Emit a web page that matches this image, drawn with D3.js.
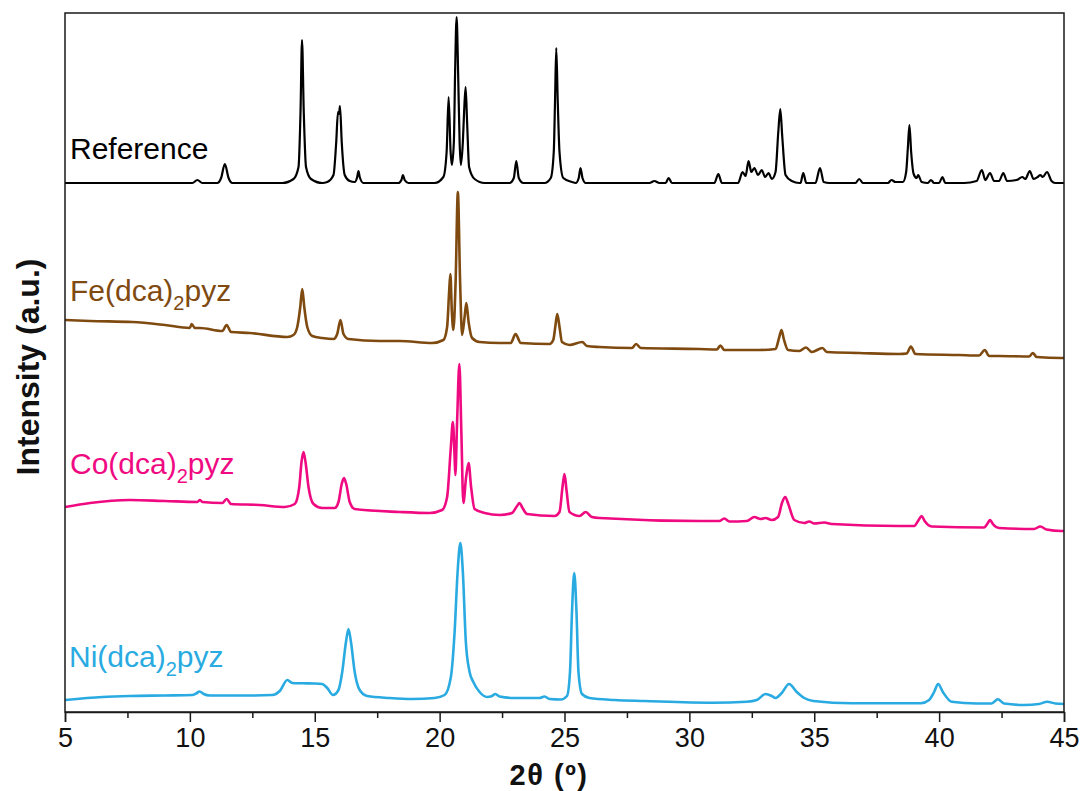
<!DOCTYPE html>
<html>
<head>
<meta charset="utf-8">
<script src="https://cdn.jsdelivr.net/npm/d3@7/dist/d3.min.js"></script>
<style>
  html, body { margin: 0; padding: 0; background: #fff; }
  svg { display: block; }
  text { font-family: "Liberation Sans", Arial, Helvetica, sans-serif; }
</style>
</head>
<body>
<svg id="chart" width="1084" height="791"></svg>
<script>
// ---- Data (2θ in degrees, intensity in a.u., patterns already vertically offset) ----
const xTicks = [5, 10, 15, 20, 25, 30, 35, 40, 45];
const xMinorTicks = [7.5, 12.5, 17.5, 22.5, 27.5, 32.5, 37.5, 42.5];
const seriesNames = ["Reference", "Fe(dca)2pyz", "Co(dca)2pyz", "Ni(dca)2pyz"];
const seriesColors = ["#000000", "#7f4a10", "#f00a82", "#29abe2"];

const referencePattern = [
  [5,529],[10.1,529],[10.3,532],[10.5,529],
  [11.1,529],[11.25,534],[11.4,548],[11.55,534],[11.7,529],
  [13.7,529],[14.15,533],[14.35,545],[14.43,600],[14.49,672],[14.56,600],[14.65,545],[14.85,533],[15.3,529],
  [15.5,530],[15.75,537],[15.86,570],[15.93,600],[15.97,598],[16.01,606],[16.08,570],[16.2,537],[16.4,531],
  [16.6,530],[16.7,535],[16.75,541],[16.8,535],[16.95,529],
  [18.35,529],[18.47,532],[18.53,537],[18.6,532],[18.75,529],
  [19.8,529],[20.15,535],[20.28,560],[20.36,615],[20.44,560],[20.49,547],[20.57,570],[20.62,640],[20.68,695],[20.74,640],[20.8,570],[20.85,547],[20.93,570],[20.98,600],[21.04,625],[21.1,590],[21.18,545],[21.4,533],[21.8,529],
  [22.8,529],[22.97,534],[23.07,551],[23.17,534],[23.35,529],
  [24.2,529],[24.45,534],[24.57,560],[24.62,610],[24.67,664],[24.73,610],[24.8,560],[24.95,534],[25.3,530],
  [25.45,529],[25.57,534],[25.64,544],[25.72,534],[25.85,529],
  [28.4,529],[28.6,531],[28.8,529],
  [29.05,529],[29.17,534],[29.3,529],
  [31.0,529],[31.16,538],[31.3,529],
  [31.95,529],[32.13,540],[32.25,536],[32.37,551],[32.48,540],[32.6,544],[32.75,537],[32.9,542],[33.03,535],[33.17,539],[33.3,533],[33.45,540],[33.56,580],[33.64,603],[33.72,575],[33.85,537],[34.1,531],[34.4,529],
  [34.45,529],[34.56,539],[34.68,529],
  [35.05,529],[35.23,544],[35.38,530],
  [35.6,529],[36.65,529],[36.8,533],[36.95,529],
  [37.95,529],[38.09,532],[38.25,530],
  [38.55,530],[38.68,540],[38.75,565],[38.81,587],[38.88,560],[38.98,538],[39.1,534],[39.16,537],[39.3,530],
  [39.55,529],[39.67,532],[39.8,529],
  [40.0,529],[40.13,535],[40.25,529],
  [41.0,529],[41.5,531],[41.71,542],[41.85,532],[42.04,539],[42.2,531],[42.4,531],[42.57,539],[42.72,531],[43.1,532],[43.33,535],[43.45,533],[43.63,541],[43.78,533],[43.95,535],[44.05,537],[44.15,535],[44.32,540],[44.5,531],[44.65,529],[45,529]
];

const fePattern = [
  [5,392],[6,391],[7.7,390],[9,387],[10.0,384],[10.07,388],[10.2,384],[10.4,384],[11.3,381],[11.47,387],[11.65,380],[12.4,379],[13.9,375],
  [14.15,377],[14.3,385],[14.42,405],[14.5,423],[14.58,405],[14.7,385],[14.9,376],[15.3,374],
  [15.75,373],[15.9,378],[16.03,392],[16.15,378],[16.35,373],[17.6,371],[18.4,371],[19.7,369],
  [20.15,372],[20.3,385],[20.38,420],[20.43,438],[20.49,400],[20.55,382],[20.64,430],[20.73,520],[20.82,430],[20.9,377],[21.0,395],[21.07,409],[21.16,390],[21.3,374],[21.6,370],
  [22.4,369],[22.85,369],[23.04,378],[23.25,369],[24.4,368],[24.55,372],[24.63,385],[24.71,398],[24.8,385],[24.9,370],[25.2,367],
  [25.71,370],[25.9,366],[26.4,365],[27.7,364],[27.87,368],[28.05,364],[30.4,363],[31.1,362.5],[31.24,366.5],[31.4,362],
  [32.8,362],[33.45,363],[33.6,375],[33.69,382],[33.78,373],[33.95,362],[34.4,361],[34.67,364.5],[34.9,360],[35.33,364],[35.5,360],
  [36.8,359],[38.4,358],[38.7,358.5],[38.87,365.5],[39.05,358],[40.8,357],[41.6,356.5],[41.83,362],[42.0,356],[42.4,356],
  [43.6,355.5],[43.76,359],[43.9,355],[44.9,354],[45,354]
];

const coPattern = [
  [5,205],[6,209],[7.6,212],[9,211],[10.3,210],[10.4,212],[10.5,210],[11.3,209],[11.47,213],[11.65,208],[12.8,207],[13.8,205],
  [14.2,208],[14.38,225],[14.47,250],[14.55,260],[14.63,250],[14.75,225],[14.95,208],[15.3,204],
  [15.8,204],[15.95,210],[16.08,228],[16.17,234],[16.26,228],[16.4,210],[16.6,203],[18.4,200],[19.6,199],
  [20.1,202],[20.3,215],[20.45,265],[20.53,290],[20.6,255],[20.63,237],[20.7,290],[20.79,348],[20.87,280],[20.95,209],[21.06,235],[21.16,249],[21.26,225],[21.4,203],[21.8,199],
  [22.4,197],[22.9,199],[23.1,206],[23.2,209],[23.32,204],[23.5,198],[24.6,196],[24.8,200],[24.92,225],[25.0,238],[25.08,222],[25.2,200],
  [25.6,196],[25.85,200],[26.1,195],[26.4,194],[30.4,191],[31.2,191],[31.4,193.5],[31.6,190.5],
  [32.3,191],[32.6,195],[32.85,193],[33.05,194],[33.3,192],[33.55,195],[33.72,210],[33.84,215],[33.96,208],[34.2,192],
  [34.6,189],[34.8,190.5],[35.0,188.5],[35.4,189.5],[35.7,188],[38.4,186],[39.0,186],[39.18,192],[39.3,196],[39.42,191],[39.7,185.5],
  [41.8,184.5],[41.95,189],[42.04,192],[42.15,188],[42.4,184],[43.8,183],[44.05,185.5],[44.3,182.5],[44.9,181],[45,181]
];

const niPattern = [
  [5,12],[6.5,15],[7.6,16],[9,16.5],[10.1,17],[10.25,18.5],[10.39,20.5],[10.55,18],[10.8,16.5],[12.5,16.5],
  [13.3,17],[13.6,21],[13.9,32],[14.1,29],[14.5,28.7],[15.0,28.5],[15.3,28],[15.5,24],[15.73,17],
  [15.95,22],[16.1,40],[16.25,70],[16.35,83],[16.45,70],[16.6,40],[16.8,22],[17.1,16],[18.0,14],[18.9,13],[19.8,14],
  [20.2,17],[20.45,35],[20.6,80],[20.72,140],[20.83,169],[20.93,140],[21.05,70],[21.2,40],[21.35,30],[21.6,20],[21.9,15],
  [22.1,16],[22.23,18],[22.4,15.5],[23,14],[24.0,14],[24.2,15.5],[24.4,13],[24.85,12.5],
  [25.1,16],[25.22,40],[25.3,100],[25.39,139],[25.48,100],[25.56,40],[25.7,18],[26,14],[27,12],[28.2,11],[30.94,9.3],[32.3,10.3],
  [32.7,12],[33.05,18],[33.3,16],[33.45,14],[33.7,19],[33.99,28],[34.3,20],[34.6,14],[34.96,11],[36.5,8.7],[39.27,8.7],
  [39.6,12],[39.8,20],[39.96,28],[40.15,20],[40.5,10.3],[41.5,8.5],[42.1,8.5],[42.35,12.7],[42.6,8.5],[43.4,7],[44.0,8],[44.33,10.3],[44.65,8.5],[45,8]
];

const patterns = [referencePattern, fePattern, coPattern, niPattern];

// ---- Layout ----
const margin = { left: 65, right: 20, top: 13, bottom: 79 };
const W = 1084, H = 791;
const plotW = W - margin.left - margin.right;
const plotH = H - margin.top - margin.bottom;

const svg = d3.select("#chart");
const g = svg.append("g").attr("transform", `translate(${margin.left},${margin.top})`);

const x = d3.scaleLinear().domain([5, 45]).range([0, plotW]);
const y = d3.scaleLinear().domain([0, 699]).range([plotH, 0]);

svg.append("defs").append("clipPath").attr("id", "clip")
  .append("rect").attr("width", plotW).attr("height", plotH);

const line = d3.line()
  .x(d => x(d[0]))
  .y(d => y(d[1]))
  .curve(d3.curveMonotoneX);

const widths = [2.2, 2.6, 2.6, 2.6];
g.append("g").attr("clip-path", "url(#clip)")
  .selectAll("path.series")
  .data(patterns)
  .join("path")
  .attr("class", "series")
  .attr("fill", "none")
  .attr("stroke", (d, i) => seriesColors[i])
  .attr("stroke-width", (d, i) => widths[i])
  .attr("stroke-linejoin", "round")
  .attr("d", line);

// Frame
g.append("rect")
  .attr("width", plotW).attr("height", plotH)
  .attr("fill", "none").attr("stroke", "#1a1a1a").attr("stroke-width", 1.5);

// Bottom axis (major + minor ticks)
const xAxis = d3.axisBottom(x).tickValues(xTicks).tickSize(10).tickPadding(6).tickFormat(d3.format("d"));
const ax = g.append("g").attr("transform", `translate(0,${plotH})`).call(xAxis);
ax.select(".domain").attr("stroke", "#1a1a1a").attr("stroke-width", 1.5);
ax.selectAll(".tick line").attr("stroke", "#1a1a1a").attr("stroke-width", 1.5);
ax.selectAll(".tick text").attr("font-size", 27).attr("fill", "#111")
  .attr("font-family", "'Liberation Sans', Arial, sans-serif");

const minorAxis = d3.axisBottom(x).tickValues(xMinorTicks).tickSize(6).tickFormat("");
const mx = g.append("g").attr("transform", `translate(0,${plotH})`).call(minorAxis);
mx.select(".domain").remove();
mx.selectAll(".tick line").attr("stroke", "#1a1a1a").attr("stroke-width", 1.5);

// Axis titles
svg.append("text")
  .attr("x", 549).attr("y", 785)
  .attr("text-anchor", "middle").attr("font-size", 29).attr("font-weight", "bold").attr("fill", "#111")
  .attr("letter-spacing", 1.5)
  .text("2θ (º)");

svg.append("text")
  .attr("transform", `translate(39,${367}) rotate(-90)`)
  .attr("text-anchor", "middle").attr("font-size", 32).attr("font-weight", "bold").attr("fill", "#111")
  .text("Intensity (a.u.)");

// Series labels
const labelPos = [[70, 159], [70, 301], [70, 474], [69, 667]];
seriesNames.forEach((name, i) => {
  const t = svg.append("text")
    .attr("x", labelPos[i][0]).attr("y", labelPos[i][1])
    .attr("font-size", 30).attr("fill", seriesColors[i]);
  const m = name.match(/^(.*\))(\d)(.*)$/);
  if (m) {
    t.append("tspan").text(m[1]);
    t.append("tspan").text(m[2]).attr("font-size", 20).attr("dy", 9);
    t.append("tspan").text(m[3]).attr("dy", -9);
  } else {
    t.text(name);
  }
});
</script>
</body>
</html>
